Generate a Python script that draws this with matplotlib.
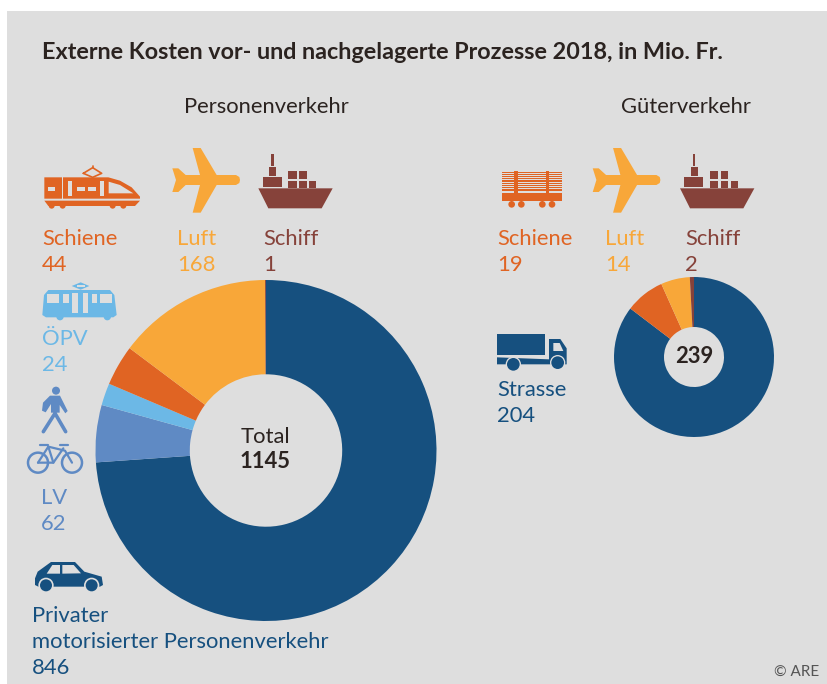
import matplotlib
matplotlib.use('Agg')
import matplotlib.pyplot as plt
from matplotlib.patches import Polygon, Circle, Rectangle

plt.rcParams['font.family'] = ['Lato', 'DejaVu Sans']

W, H = 827, 684
BG = '#dedede'
DARK = '#16507f'
LV_C = '#5f8ac4'
OPV_C = '#6cb8e6'
RAIL = '#e06423'
AIR = '#f8a739'
SHIP = '#86423a'
TXT = '#2b2320'

# data
pers_labels = ['Privater motorisierter Personenverkehr', 'LV', 'ÖPV', 'Schiene', 'Luft', 'Schiff']
pers_values = [846, 62, 24, 44, 168, 1]
pers_colors = [DARK, LV_C, OPV_C, RAIL, AIR, SHIP]
pers_total = 1145

gueter_labels = ['Strasse', 'Schiene', 'Luft', 'Schiff']
gueter_values = [204, 19, 14, 2]
gueter_colors = [DARK, RAIL, AIR, SHIP]
gueter_total = 239

LAB = 15.8

fig = plt.figure(figsize=(W / 100, H / 100), dpi=100, facecolor='white')
ax = fig.add_axes([0, 0, 1, 1])
ax.set_xlim(0, W)
ax.set_ylim(H, 0)
ax.axis('off')
ax.add_patch(Rectangle((7, 11), W - 7, H - 11, fc=BG, ec='none', zorder=0))


def donut(values, colors, box, hole):
    # separate axes so the pie keeps its own scale, box in pixels
    x0, y0, x1, y1 = box
    a = fig.add_axes([x0 / W, 1 - y1 / H, (x1 - x0) / W, (y1 - y0) / H])
    a.pie(values, colors=colors, startangle=90, counterclock=False, radius=1,
          wedgeprops={'width': 1 - hole, 'linewidth': 0})
    a.set_xlim(-1, 1)
    a.set_ylim(-1, 1)
    a.set_aspect('equal')
    a.patch.set_alpha(0)
    return a


donut(pers_values, pers_colors, (95.5, 280, 436.5, 621), 0.447)
donut(gueter_values, gueter_colors, (614, 277, 774, 437), 0.375)

ax2 = fig.add_axes([0, 0, 1, 1])
ax2.set_xlim(0, W)
ax2.set_ylim(H, 0)
ax2.axis('off')
ax2.patch.set_alpha(0)


def txt(x, y, s, color=TXT, size=LAB, weight='normal', ha='left'):
    ax2.text(x, y, s, color=color, fontsize=size, fontweight=weight, ha=ha, va='baseline')


def pts(points, ox, oy):
    return [(ox + p[0] / 3, oy + p[1] / 3) for p in points]


def poly(points, ox, oy, color):
    ax2.add_patch(Polygon(pts(points, ox, oy), closed=True, fc=color, ec='none'))


def box(x0, y0, x1, y1, ox, oy, color):
    ax2.add_patch(Rectangle((ox + x0 / 3, oy + y0 / 3), (x1 - x0) / 3, (y1 - y0) / 3, fc=color, ec='none'))


def circ(x, y, r, ox, oy, color, ec='none', lw=0):
    ax2.add_patch(Circle((ox + x / 3, oy + y / 3), r / 3, fc=color, ec=ec, lw=lw))


def line(points, ox, oy, color, lw):
    p = pts(points, ox, oy)
    ax2.plot([q[0] for q in p], [q[1] for q in p], color=color, lw=lw, solid_capstyle='round')


def plane(ox, oy):
    poly([(457, 85), (475, 85), (497, 105), (540, 105), (518, 24), (542, 24), (590, 105), (648, 105),
          (658, 111), (660, 120), (658, 129), (648, 135), (590, 135), (542, 218), (518, 218), (540, 135),
          (497, 135), (475, 156), (457, 156), (468, 120)], ox, oy, AIR)


def ship(ox, oy):
    poly([(715, 145), (938, 145), (905, 205), (745, 205)], ox, oy, SHIP)
    box(728, 112, 785, 142, ox, oy, SHIP)
    box(747, 80, 768, 108, ox, oy, SHIP)
    box(754, 43, 761, 78, ox, oy, SHIP)
    for c in [(805, 92, 830, 116), (837, 92, 860, 116), (805, 122, 830, 143), (837, 122, 860, 143), (867, 122, 889, 143)]:
        box(*c, ox, oy, SHIP)


def train(ox, oy):
    poly([(73, 112), (265, 112), (300, 122), (335, 142), (360, 170), (360, 176), (73, 176)], ox, oy, RAIL)
    poly([(73, 182), (360, 182), (345, 198), (85, 198)], ox, oy, RAIL)
    for x in [95, 128, 278, 310]:
        circ(x, 197, 9, ox, oy, RAIL)
    box(125, 112, 129, 176, ox, oy, BG)
    box(84, 140, 106, 152, ox, oy, BG)
    box(145, 122, 156, 168, ox, oy, BG)
    box(171, 140, 195, 152, ox, oy, BG)
    box(205, 140, 227, 152, ox, oy, BG)
    box(239, 122, 252, 168, ox, oy, BG)
    poly([(266, 125), (300, 135), (340, 160), (266, 160)], ox, oy, BG)
    line([(190, 100), (218, 83), (245, 100), (218, 112), (190, 100)], ox, oy, RAIL, 1.2)
    line([(218, 83), (218, 78)], ox, oy, RAIL, 1.2)


def tram(ox, oy):
    poly([(85, 450), (270, 450), (283, 465), (290, 525), (280, 532), (78, 532), (67, 525), (72, 465)], ox, oy, OPV_C)
    for x in [120, 262]:
        circ(x, 530, 11, ox, oy, OPV_C)
    box(80, 463, 118, 488, ox, oy, BG)
    box(128, 463, 148, 488, ox, oy, BG)
    box(156, 460, 174, 520, ox, oy, BG)
    box(188, 460, 205, 520, ox, oy, BG)
    box(215, 463, 230, 488, ox, oy, BG)
    box(240, 463, 277, 488, ox, oy, BG)
    poly([(155, 438), (182, 427), (208, 438), (182, 449)], ox, oy, OPV_C)
    box(170, 434, 194, 441, ox, oy, BG)


def walker(ox, oy):
    circ(123, 32, 12, ox, oy, LV_C)
    poly([(105, 47), (135, 47), (158, 93), (151, 100), (134, 75), (134, 98), (108, 98), (108, 72),
          (92, 97), (81, 92), (84, 68)], ox, oy, LV_C)
    line([(120, 100), (85, 155)], ox, oy, LV_C, 2.6)
    line([(120, 100), (152, 155)], ox, oy, LV_C, 2.6)


def bike(ox, oy):
    for x in [69, 171]:
        circ(x, 248, 30, ox, oy, 'none', ec=LV_C, lw=1.8)
    line([(69, 248), (100, 200), (150, 212), (171, 248)], ox, oy, LV_C, 1.6)
    line([(69, 248), (115, 248), (145, 205)], ox, oy, LV_C, 1.6)
    line([(100, 200), (115, 248)], ox, oy, LV_C, 1.6)
    line([(75, 194), (100, 194)], ox, oy, LV_C, 1.6)
    line([(135, 194), (160, 194)], ox, oy, LV_C, 1.6)


def car(ox, oy):
    poly([(60, 595), (68, 575), (108, 546), (180, 546), (208, 575), (260, 590), (264, 615), (255, 620),
          (70, 620), (60, 615)], ox, oy, DARK)
    poly([(95, 581), (112, 555), (135, 555), (135, 581)], ox, oy, BG)
    poly([(142, 555), (176, 555), (198, 580), (142, 581)], ox, oy, BG)
    circ(93, 616, 23, ox, oy, BG)
    circ(230, 616, 23, ox, oy, BG)
    circ(93, 616, 18, ox, oy, DARK)
    circ(230, 616, 18, ox, oy, DARK)


def truck(ox, oy):
    # own crop, same 3x scale
    box(36, 27, 180, 90, ox, oy, DARK)
    poly([(36, 97), (192, 103), (192, 42), (226, 42), (245, 70), (245, 118), (36, 118), (36, 108)], ox, oy, DARK)
    poly([(205, 54), (224, 54), (235, 78), (205, 78)], ox, oy, BG)
    circ(85, 118, 23, ox, oy, BG)
    circ(218, 113, 23, ox, oy, BG)
    circ(85, 118, 19, ox, oy, DARK)
    circ(218, 113, 19, ox, oy, DARK)


def wagon(ox, oy):
    for i in range(11):
        box(67, 97 + i * 5.4, 245, 100 + i * 5.4, ox, oy, RAIL)
    box(67, 158, 245, 183, ox, oy, RAIL)
    box(103, 93, 113, 158, ox, oy, RAIL)
    box(198, 93, 208, 158, ox, oy, RAIL)
    for x in [95, 124, 187, 216]:
        circ(x, 193, 10, ox, oy, RAIL)


train(20, 140)
plane(20, 140)
ship(20, 140)
tram(20, 140)
walker(15, 380)
bike(15, 380)
car(15, 380)
wagon(480, 140)
plane(440.4, 140)
ship(441.7, 140)
truck(485, 325)

txt(42, 59, 'Externe Kosten vor- und nachgelagerte Prozesse 2018, in Mio. Fr.', size=16.85, weight='bold')
txt(266, 113, 'Personenverkehr', ha='center')
txt(686, 113, 'Güterverkehr', ha='center')

txt(42, 245, pers_labels[3], RAIL)
txt(42, 271, str(pers_values[3]), RAIL)
txt(177, 245, pers_labels[4], AIR)
txt(177, 271, str(pers_values[4]), AIR)
txt(263, 245, pers_labels[5], SHIP)
txt(263, 271, str(pers_values[5]), SHIP)
txt(42, 345, pers_labels[2], OPV_C)
txt(42, 371, str(pers_values[2]), OPV_C)
txt(54, 504, pers_labels[1], LV_C, ha='center')
txt(54, 530, str(pers_values[1]), LV_C, ha='center')
txt(32, 622, 'Privater', DARK)
txt(32, 648, 'motorisierter Personenverkehr', DARK)
txt(32, 674, str(pers_values[0]), DARK)

txt(497, 245, gueter_labels[1], RAIL)
txt(497, 271, str(gueter_values[1]), RAIL)
txt(605, 245, gueter_labels[2], AIR)
txt(605, 271, str(gueter_values[2]), AIR)
txt(685, 245, gueter_labels[3], SHIP)
txt(685, 271, str(gueter_values[3]), SHIP)
txt(497, 396, gueter_labels[0], DARK)
txt(497, 422, str(gueter_values[0]), DARK)

txt(265, 443, 'Total', ha='center')
txt(265, 468, str(pers_total), weight='bold', ha='center')
txt(694, 363, str(gueter_total), weight='bold', ha='center')
txt(819, 676, '© ARE', '#555555', 11, ha='right')

fig.savefig('out.png', dpi=100, facecolor='white')
